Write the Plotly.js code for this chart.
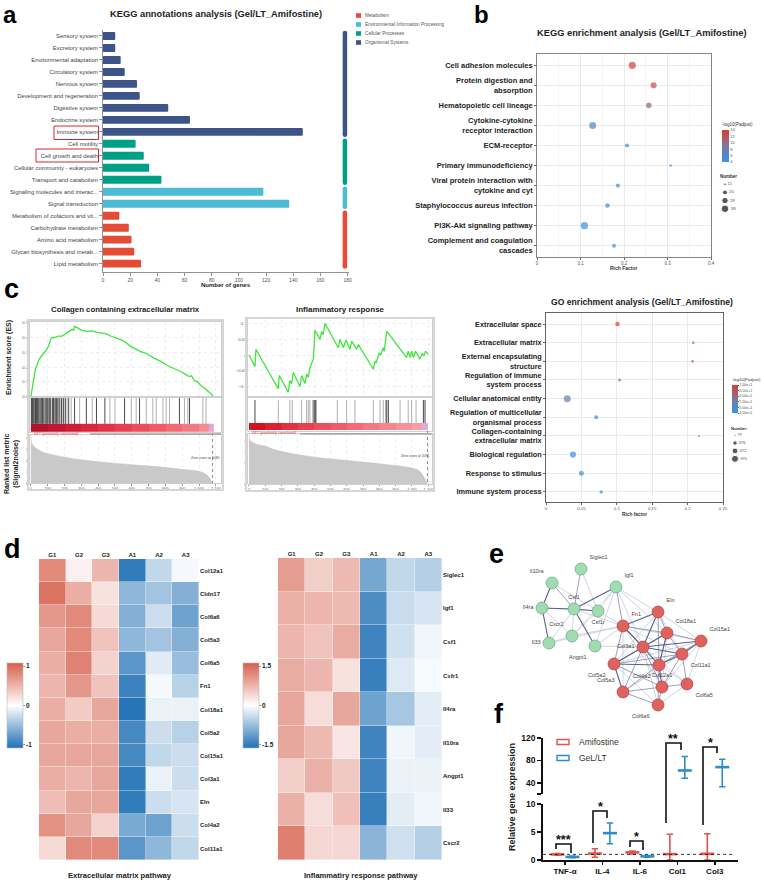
<!DOCTYPE html>
<html><head><meta charset="utf-8">
<script src="https://cdn.plot.ly/plotly-3.0.1.min.js"></script>
<style>html,body{margin:0;padding:0;background:#fff;}#chart{width:764px;height:882px;}</style>
</head><body><div id="chart"></div>
<script>
// ---------------- DATA ----------------
// Panel a: KEGG annotation
const keggCats = ['Sensory system','Excretory system','Environmental adaptation','Circulatory system','Nervous system','Development and regeneration','Digestive system','Endocrine system','Immune system','Cell motility','Cell growth and death','Cellular community - eukaryotes','Transport and catabolism','Signaling molecules and interac...','Signal transduction','Metabolism of cofactors and vit...','Carbohydrate metabolism','Amino acid metabolism','Glycan biosynthesis and metab...','Lipid metabolism'];
const keggGenes = [9,9,13,16,25,27,48,64,147,24,30,34,43,118,137,12,19,21,23,28];
const keggClass = ['Organismal Systems','Organismal Systems','Organismal Systems','Organismal Systems','Organismal Systems','Organismal Systems','Organismal Systems','Organismal Systems','Organismal Systems','Cellular Processes','Cellular Processes','Cellular Processes','Cellular Processes','Environmental Information Processing','Environmental Information Processing','Metabolism','Metabolism','Metabolism','Metabolism','Metabolism'];
const classNames = ['Metabolism','Environmental Information Processing','Cellular Processes','Organismal Systems'];
const classColors = ['#E64B35','#4DBBD5','#00A087','#3C5488'];

// Panel b: KEGG enrichment
const kCats = ['Cell adhesion molecules','Protein digestion and<br>absorption','Hematopoietic cell lineage','Cytokine-cytokine<br>receptor interaction','ECM-receptor','Primary immunodeficiency','Viral protein interaction with<br>cytokine and cyt','Staphylococcus aureus infection','PI3K-Akt signaling pathway','Complement and coagulation<br>cascades'];
const kRich = [0.219,0.268,0.257,0.128,0.207,0.307,0.186,0.162,0.109,0.177];
const kPadj = [13.5,12.5,10.8,7.0,5.8,4.8,4.6,4.4,4.2,4.2];
const kNum = [35,27,24,33,17,11,17,19,36,16];
const kNumLegend = [11,20,29,38];
const kPadjTicks = [4,6,8,10,12,14];

// Panel c: GSEA
const gsea1Title = 'Collagen containing extracellular matrix';
const es1X = [0,6,12,18,24,28,36,48,60,70,80,87,97,105,117,127,137,150,165,186,200,216,230,246,254,260,270,286,300,335,360,395,415,435,450,474,500,534,560,593,620,653,690,732,770,812,850,891,920,941,955,970,990,1010,1030,1050,1070,1083];
const es1Y = [0,0.04,0.08,0.11,0.15,0.19,0.21,0.25,0.27,0.29,0.3,0.305,0.33,0.34,0.385,0.4,0.4,0.405,0.41,0.41,0.42,0.43,0.44,0.455,0.45,0.475,0.47,0.46,0.45,0.44,0.445,0.435,0.43,0.43,0.425,0.41,0.4,0.385,0.37,0.34,0.325,0.305,0.29,0.26,0.24,0.21,0.19,0.17,0.15,0.135,0.14,0.11,0.1,0.075,0.06,0.04,0.02,0.005];
const hits1Dark = [3,8,14,20,27,33,40,48,55,62,70,77,85,92,100,110,118,128,135,145,152,160,172,182,195,205,225,260,330,390,440,557,646,883,943];
const hits1Grey = [11,30,45,66,105,140,165,190,215,240,290,365,470,500,597,626,686,725,745,785,804,824,913,933,1022,1041];
const rank1X = [0,4,14,34,73,113,211,310,409,607,804,923,1002,1041,1061,1073,1080];
const rank1Y = [4.25,3.6,3.3,3.05,2.72,2.56,2.27,2.04,1.88,1.62,1.38,1.18,1.04,0.8,0.5,0.15,0];
const zero1 = 1080;

const gsea2Title = 'Inflammatory response';
const es2X = [0,37,43,180,186,241,251,262,272,313,323,344,354,364,374,395,405,436,446,456,466,548,558,579,595,620,630,661,671,763,773,780,800,808,824,830,845,967,977,988,998,1008,1022,1049,1063,1075,1083,1100];
const es2Y = [0,-0.036,0.018,-0.107,-0.065,-0.117,-0.081,-0.09,-0.055,-0.1,-0.065,-0.09,-0.06,-0.07,-0.04,-0.013,0.078,0.049,0.074,0.064,0.1,0.023,0.049,0.023,0.047,0.018,0.044,0.018,0.033,-0.045,-0.019,-0.025,0.007,0,0.023,0.012,0.075,-0.008,0.012,-0.008,0.012,-0.008,0.012,-0.013,0.005,-0.003,0.012,0.002];
const hits2Dark = [37,399,405,411,845,855,1070,1080];
const hits2Grey = [180,251,266,323,354,364,374,391,542,599,650,763,804,824,838,927,977,998,1025];
const rank2X = [0,5,20,50,98,150,251,350,456,560,660,760,865,950,1008,1040,1059,1075,1088,1095];
const rank2Y = [4.45,4.0,3.8,3.6,3.45,3.15,2.8,2.55,2.35,2.2,2.05,1.9,1.73,1.58,1.42,1.25,0.97,0.6,0.2,0];
const zero2 = 1095;
const bandEdges1 = [0,100,200,300,400,500,600,700,800,900,1000,1055,1085];
const bandColors1 = ['#b3122b','#c2162f','#cf1f36','#d9283d','#e03445','#e5404f','#ea4d5b','#ee5b67','#f16a74','#f37a82','#f48a90','#e7a3dc'];
const bandEdges2 = [0,100,200,300,400,500,600,700,800,900,1000,1060,1098];
const bandColors2 = ['#d3141e','#dc2230','#e2323f','#e8404d','#ec4e5b','#ef5c68','#f16a75','#f37882','#f5868e','#f6929a','#f59ea6','#e3a9e3'];

// Panel c: GO enrichment
const goCats = ['Extracellular space','Extracellular matrix','External encapsulating<br>structure','Regulation of immune<br>system process','Cellular anatomical entity','Regulation of multicellular<br>organismal process','Collagen-containing<br>extracellular matrix','Biological regulation','Response to stimulus','Immune system process'];
const goRich = [0.101,0.208,0.207,0.104,0.030,0.071,0.216,0.038,0.050,0.078];
const goPadj = [70,67.5,67,56,55,49.5,48,47,46.5,46];
const goNum = [400,125,125,180,970,320,79,760,500,240];
const goNumLegend = [79,376,672,970];
const goPadjTicks = [45,50,55,60,65,70];

// Panel d: heatmaps
const samples = ['G1','G2','G3','A1','A2','A3'];
const ecmGenes = ['Col12a1','Cldn17','Col6a6','Col5a3','Col6a5','Fn1','Col18a1','Col5a2','Col15a1','Col3a1','Eln','Col4a2','Col11a1'];
const ecmZ = [
 [0.8,0.1,0.5,-1.0,-0.3,-0.05],
 [0.95,0.55,0.2,-0.55,-0.45,-0.6],
 [0.7,0.8,0.25,-0.6,-0.25,-0.7],
 [0.6,0.8,0.4,-0.55,-0.45,-0.6],
 [0.55,0.85,0.3,-0.8,-0.15,-0.5],
 [0.5,0.7,0.4,-0.95,-0.05,-0.35],
 [0.55,0.35,0.6,-1.05,-0.1,-0.1],
 [0.6,0.55,0.55,-0.9,-0.25,-0.35],
 [0.6,0.6,0.6,-0.9,-0.3,-0.25],
 [0.55,0.5,0.6,-1.0,-0.1,-0.25],
 [0.45,0.6,0.6,-1.0,-0.25,-0.2],
 [0.75,0.6,0.3,-0.65,-0.7,-0.25],
 [0.25,0.8,0.8,-0.8,-0.55,-0.3]];
const infGenes = ['Siglec1','Igf1','Csf1','Csfr1','Il4ra','Il10ra','Angpt1','Il33','Cxcr2'];
const infZ = [
 [1.0,0.5,0.7,-1.0,-0.45,-0.55],
 [0.8,0.75,0.7,-1.3,-0.4,-0.3],
 [0.75,0.6,0.85,-1.4,-0.35,-0.1],
 [0.85,0.75,0.3,-1.45,-0.25,-0.05],
 [0.9,0.35,0.9,-1.05,-0.65,-0.2],
 [0.9,0.7,0.25,-1.4,-0.1,-0.2],
 [0.5,0.8,0.55,-1.4,-0.15,-0.15],
 [0.8,0.35,0.65,-1.45,-0.2,-0.1],
 [1.3,0.4,0.4,-0.85,-0.35,-0.55]];

// Panel e: network (layout coordinates)
const nodeNames = ['Siglec1','Il10ra','Igf1','Il4ra','Csf1','Csf1r','Cxcr2','Il33','Angpt1','Fn1','Eln','Col18a1','Col15a1','Col3a1','Col11a1','Col5a2','Col4a2','Col12a1','Col5a3','Col6a5','Col6a6'];
const nodeX = [581,552,616,542,574,598,572,549,595,623,658,667,701,643,682,614,659,662,623,687,658];
const nodeY = [569,583,587,608,609,611,636,643,646,626,612,633,641,647,654,664,665,687,692,684,705];
const nodeGroup = ['inf','inf','inf','inf','inf','inf','inf','inf','inf','ecm','ecm','ecm','ecm','ecm','ecm','ecm','ecm','ecm','ecm','ecm','ecm'];
const nodeLabelPos = ['top right','top left','top right','middle left','top center','bottom center','top left','middle left','bottom left','top right','top right','top right','top right','middle left','bottom right','bottom left','bottom left','top center','top left','bottom right','bottom left'];
const edgesDark = ['Il10ra-Il4ra','Il4ra-Csf1','Il4ra-Il33','Csf1-Csf1r','Csf1-Igf1','Csf1-Angpt1','Fn1-Eln','Fn1-Col3a1','Eln-Col3a1','Col18a1-Col3a1','Col18a1-Col4a2','Col3a1-Col5a2','Col3a1-Col4a2','Col3a1-Col11a1','Col3a1-Col15a1','Col5a2-Col4a2','Col5a2-Col5a3','Col4a2-Col12a1','Col4a2-Col11a1','Col11a1-Col15a1'];
const edgesMed = ['Il10ra-Csf1','Siglec1-Csf1','Igf1-Fn1','Fn1-Col18a1','Fn1-Col5a2','Fn1-Col4a2','Eln-Col18a1','Eln-Col4a2','Col18a1-Col15a1','Col18a1-Col11a1','Col18a1-Col5a2','Col3a1-Col12a1','Col3a1-Col5a3','Col5a2-Col12a1','Col5a2-Col11a1','Col4a2-Col15a1','Col4a2-Col5a3','Col4a2-Col6a6','Col11a1-Col12a1','Col11a1-Col6a5','Col12a1-Col6a5','Col12a1-Col5a3','Col12a1-Col6a6','Col5a3-Col6a6'];
const edgesLight = ['Il10ra-Csf1r','Il4ra-Cxcr2','Il4ra-Csf1r','Siglec1-Csf1r','Csf1-Cxcr2','Csf1-Il33','Igf1-Csf1r','Igf1-Eln','Igf1-Angpt1','Igf1-Cxcr2','Igf1-Col18a1','Igf1-Col3a1','Csf1r-Cxcr2','Csf1r-Fn1','Il33-Cxcr2','Il33-Fn1','Cxcr2-Fn1','Angpt1-Fn1','Angpt1-Col3a1','Csf1-Fn1','Fn1-Col15a1','Fn1-Col11a1','Fn1-Col12a1','Fn1-Col5a3','Eln-Col15a1','Eln-Col5a2','Eln-Col11a1','Col18a1-Col12a1','Col3a1-Col6a6','Col3a1-Col6a5','Col5a2-Col6a6','Col5a2-Col15a1','Col4a2-Col6a5','Col6a5-Col6a6','Col15a1-Col6a5','Col15a1-Col12a1','Col5a3-Col11a1'];

// Panel f: qPCR
const qCats = ['TNF-α','IL-4','IL-6','Col1','Col3'];
const amiMean = [1.0,1.15,1.35,1.05,1.1];
const amiLo = [0.85,0.5,1.1,0,0];
const amiHi = [1.15,2.0,1.6,4.6,4.7];
const gelMean = [0.55,4.8,0.65,62,68];
const gelLo = [0.4,2.9,0.5,48,33];
const gelHi = [0.7,6.6,0.8,87,82];
const sigStars = ['***','*','*','**','*'];
const axisBreak = 10;

// ---------------- HELPERS ----------------
const W=764,H=882;
const FONT='Liberation Sans, Arial, Helvetica, sans-serif';
const X=p=>p/W, Y=p=>1-p/H;
const DX=(a,b)=>[a/W,b/W], DY=(t,b)=>[1-b/H,1-t/H];
const traces=[], shapes=[], annotations=[];
function ann(x,y,text,o){annotations.push(Object.assign({xref:'paper',yref:'paper',x:X(x),y:Y(y),text:text,showarrow:false,xanchor:'center',yanchor:'middle',font:{size:7,color:'#222',family:FONT}},o||{}));}
function rectPx(x0,y0,x1,y1,o){shapes.push(Object.assign({type:'rect',xref:'paper',yref:'paper',x0:X(x0),x1:X(x1),y0:Y(y1),y1:Y(y0),line:{width:1,color:'#000'}},o||{}));}
function linePx(pts,o){shapes.push(Object.assign({type:'path',xref:'paper',yref:'paper',path:'M'+pts.map(p=>X(p[0])+','+Y(p[1])).join(' L'),line:{width:1.6,color:'#000'}},o||{}));}
function ax(o){return Object.assign({showgrid:false,zeroline:false,showline:false,ticks:'',automargin:false,fixedrange:true},o);}
function areaScale(n,nmin,nmax,dmin,dmax){const t=(n-nmin)/(nmax-nmin);return Math.sqrt(dmin*dmin+t*(dmax*dmax-dmin*dmin));}
const idx = arr=>arr.map((_,i)=>i);
const layout={width:W,height:H,margin:{l:0,r:0,t:0,b:0},paper_bgcolor:'#fff',plot_bgcolor:'rgba(0,0,0,0)',font:{family:FONT,color:'#222'},showlegend:false};

// ---------------- PANEL A ----------------
const iA = idx(keggCats);
traces.push({type:'bar',orientation:'h',x:keggGenes,y:iA,xaxis:'x',yaxis:'y',width:0.66,marker:{color:keggClass.map(c=>classColors[classNames.indexOf(c)]),cornerradius:1,line:{width:0}},hoverinfo:'skip'});
classNames.forEach((cn,k)=>{
  const rows=iA.filter(i=>keggClass[i]===cn);
  const y0=Math.min(...rows)-0.25, y1=Math.max(...rows)+0.25;
  traces.push({type:'scatter',mode:'lines+markers',x:[178,178],y:[y0,y1],xaxis:'x',yaxis:'y',line:{color:classColors[k],width:4.5},marker:{size:4.5,color:classColors[k]},hoverinfo:'skip',cliponaxis:false});
});
layout.xaxis=ax({domain:DX(103,349),range:[0,181],anchor:'y',dtick:20,tick0:0,ticks:'outside',ticklen:3,tickwidth:0.8,tickcolor:'#777',showline:true,linecolor:'#777',linewidth:0.8,tickfont:{size:5,color:'#555'}});
layout.yaxis=ax({domain:DY(30,272),range:[19.7,-0.5],anchor:'x',tickvals:iA,ticktext:keggCats,ticks:'outside',ticklen:3,tickwidth:0.8,tickcolor:'#777',showline:true,linecolor:'#777',linewidth:0.8,tickfont:{size:5.9,color:'#444'}});
ann(216,14,'<b>KEGG annotations analysis (Gel/LT_Amifostine)</b>',{font:{size:9.3,color:'#222',family:FONT}});
ann(226,285,'<b>Number of genes</b>',{font:{size:6,color:'#222',family:FONT}});
rectPx(54,126,98.5,139.5,{line:{width:1,color:'#d3262c'}});
rectPx(36,149,98.5,162,{line:{width:1,color:'#d3262c'}});
classNames.forEach((cn,k)=>{
  const yc=15.5+k*9;
  rectPx(356,yc-2.3,361,yc+2.3,{fillcolor:classColors[k],line:{width:0}});
  ann(363,yc,cn,{xanchor:'left',font:{size:4.7,color:'#555',family:FONT}});
});

// ---------------- PANEL B ----------------
const bubbleScale=[[0,'#3a93e8'],[0.3,'#5585c0'],[0.5,'#7a7b9c'],[0.75,'#b15a62'],[1,'#dd3b33']];
const iB=idx(kCats);
traces.push({type:'scatter',mode:'markers',x:kRich,y:iB,xaxis:'x2',yaxis:'y2',hoverinfo:'skip',
  marker:{size:kNum.map(n=>areaScale(n,11,38,2.5,7.6)),color:kPadj,colorscale:bubbleScale,cmin:4,cmax:14,line:{width:0},showscale:true,
  colorbar:{x:X(722),xanchor:'left',y:Y(120),yanchor:'top',len:42,lenmode:'pixels',thickness:7,outlinewidth:0,tickvals:kPadjTicks,ticks:'',tickfont:{size:4,color:'#555'},xpad:0,ypad:0,
    title:{text:'-log10(Padjust)',side:'top',font:{size:4.5,color:'#333'}}}}});
layout.xaxis2=ax({domain:DX(537,711),range:[0,0.4],anchor:'y2',dtick:0.1,showgrid:true,gridcolor:'#e6e6e6',gridwidth:0.8,minor:{dtick:0.05,showgrid:true,gridcolor:'#f4f4f4'},showline:true,mirror:true,linecolor:'#666',linewidth:0.8,ticks:'outside',ticklen:2,tickcolor:'#666',tickfont:{size:4.5,color:'#555'}});
layout.yaxis2=ax({domain:DY(54.3,256.7),range:[9.55,-0.55],anchor:'x2',tickvals:iB,ticktext:kCats,showgrid:true,gridcolor:'#e6e6e6',gridwidth:0.8,showline:true,mirror:true,linecolor:'#666',linewidth:0.8,ticks:'outside',ticklen:2,tickcolor:'#666',tickfont:{size:7.5,color:'#222',weight:'bold'}});
ann(642,33,'<b>KEGG enrichment analysis (Gel/LT_Amifostine)</b>',{font:{size:9.3,color:'#222',family:FONT}});
ann(624,268,'<b>Rich Factor</b>',{font:{size:5,color:'#333',family:FONT}});
ann(718,176,'<b>Number</b>',{xanchor:'left',font:{size:4.5,color:'#333',family:FONT}});
traces.push({type:'scatter',mode:'markers+text',x:kNumLegend.map(()=>0),y:idx(kNumLegend),xaxis:'x15',yaxis:'y15',text:kNumLegend.map(String),textposition:'middle right',textfont:{size:4.3,color:'#555'},
  marker:{size:kNumLegend.map(n=>areaScale(n,11,38,2.5,7.6)),color:'#111'},hoverinfo:'skip',cliponaxis:false});
layout.xaxis15=ax({domain:DX(722,745),range:[-0.15,1],anchor:'y15',visible:false});
layout.yaxis15=ax({domain:DY(181,212),range:[3.4,-0.4],anchor:'x15',visible:false});

// ---------------- PANEL C: GSEA ----------------
function gsea(o){
  const gridC='#e2e2e2', frameC='#c4c4c4';
  traces.push({type:'scatter',mode:'lines',x:o.esX,y:o.esY,xaxis:o.ax[0],yaxis:o.ay[0],line:{color:'#3ee63e',width:1.3},hoverinfo:'skip'});
  const mk=(pos)=>{const xs=[],ys=[];pos.forEach(p=>{xs.push(p,p,null);ys.push(0.235,o.hitTop,null);});return [xs,ys];};
  const g=mk(o.hitsGrey), d=mk(o.hitsDark);
  traces.push({type:'scatter',mode:'lines',x:g[0],y:g[1],xaxis:o.ax[1],yaxis:o.ay[1],line:{color:'#9a9a9a',width:0.8},hoverinfo:'skip'});
  traces.push({type:'scatter',mode:'lines',x:d[0],y:d[1],xaxis:o.ax[1],yaxis:o.ay[1],line:{color:'#1a1a1a',width:0.8},hoverinfo:'skip'});
  traces.push({type:'heatmap',x:o.bandEdges,y:[0.02,0.235],z:[o.bandColors.map((_,i)=>i)],colorscale:o.bandColors.map((c,i)=>[i/(o.bandColors.length-1),c]),showscale:false,xaxis:o.ax[1],yaxis:o.ay[1],hoverinfo:'skip'});
  traces.push({type:'scatter',mode:'lines',x:o.rankX,y:o.rankY,fill:'tozeroy',fillcolor:'#c9c9c9',line:{color:'#c0c0c0',width:0.5,shape:'spline'},xaxis:o.ax[2],yaxis:o.ay[2],hoverinfo:'skip'});
  const xbase={range:o.xr,showgrid:true,gridcolor:gridC,griddash:'dot',gridwidth:0.6,dtick:100,tick0:0,showline:true,mirror:true,linecolor:frameC,linewidth:0.8};
  layout['xaxis'+o.n[0]]=ax(Object.assign({},xbase,{domain:o.xd,anchor:o.ay[0],showticklabels:false}));
  layout['xaxis'+o.n[1]]=ax(Object.assign({},xbase,{domain:o.xd,anchor:o.ay[1],showticklabels:false,showgrid:false}));
  layout['xaxis'+o.n[2]]=ax(Object.assign({},xbase,{domain:o.xd,anchor:o.ay[2],tickformat:',d',tickfont:{size:3.8,color:'#555'},ticks:'outside',ticklen:1.5,tickcolor:'#999'}));
  layout['yaxis'+o.n[0]]=ax({domain:o.esD,range:o.esR,anchor:o.ax[0],tickvals:o.esTicks,tickformat:o.esFmt,tickfont:{size:4.3,color:'#555'},showgrid:true,gridcolor:gridC,griddash:'dot',gridwidth:0.6,showline:true,mirror:true,linecolor:frameC,linewidth:0.8});
  layout['yaxis'+o.n[1]]=ax({domain:o.hitD,range:[0,1],anchor:o.ax[1],showticklabels:false,showline:true,mirror:true,linecolor:frameC,linewidth:0.8});
  layout['yaxis'+o.n[2]]=ax({domain:o.rankD,range:o.rankR,anchor:o.ax[2],dtick:1,tick0:0,tickfont:{size:4.3,color:'#555'},showline:true,mirror:true,linecolor:frameC,linewidth:0.8});
  shapes.push({type:'line',xref:o.ax[2],yref:'paper',x0:o.zero,x1:o.zero,y0:Y(o.rankTopPx-1),y1:Y(o.rankBotPx),line:{color:'#555',width:0.7,dash:'dot'}});
  ann(o.zeroTxtX,o.zeroTxtY,'Zero cross at '+o.zero,{xanchor:'right',font:{size:3.4,color:'#444',family:FONT}});
  ann(o.xpx[0]+2,o.labelY,'GLT (positively correlated)',{xanchor:'left',font:{size:3.8,color:'#e8303a',family:FONT}});
  linePx([[o.greyLine[0],o.labelY+0.6],[o.greyLine[1],o.labelY+0.6]],{line:{color:'#a8a8a8',width:1.8}});
  rectPx(o.frame[0],o.frame[1],o.frame[2],o.frame[3],{line:{color:'#d6d6d6',width:2}});
  ann((o.xpx[0]+o.xpx[1])/2,309,'<b>'+o.title+'</b>',{font:{size:o.titleSize,color:'#222',family:FONT}});
}
gsea({n:[3,4,5],ax:['x3','x4','x5'],ay:['y3','y4','y5'],xd:DX(30,221),xpx:[30,221],xr:[-5,1130],
  esX:es1X,esY:es1Y,hitsDark:hits1Dark,hitsGrey:hits1Grey,hitTop:0.97,bandEdges:bandEdges1,bandColors:bandColors1,rankX:rank1X,rankY:rank1Y,
  esD:DY(322,397),esR:[-0.003,0.505],esTicks:[0,0.1,0.2,0.3,0.4,0.5],esFmt:'.1f',hitD:DY(397,432),rankD:DY(435,483.3),rankR:[0,4.24],
  zero:zero1,rankTopPx:434,rankBotPx:483.3,zeroTxtX:221,zeroTxtY:458,labelY:433.6,greyLine:[90,221],frame:[28,320,223,490],title:gsea1Title,titleSize:7.8});
gsea({n:[6,7,8],ax:['x6','x7','x8'],ay:['y6','y7','y8'],xd:DX(248.3,431.7),xpx:[248.3,431.7],xr:[-4,1121],
  esX:es2X,esY:es2Y,hitsDark:hits2Dark,hitsGrey:hits2Grey,hitTop:0.91,bandEdges:bandEdges2,bandColors:bandColors2,rankX:rank2X,rankY:rank2Y,
  esD:DY(319.3,396.7),esR:[-0.1315,0.1126],esTicks:[-0.1,-0.05,0,0.05,0.1],esFmt:'',hitD:DY(397,431),rankD:DY(433.4,484),rankR:[0,4.6],
  zero:zero2,rankTopPx:432,rankBotPx:484,zeroTxtX:431,zeroTxtY:456,labelY:433.2,greyLine:[300,431.7],frame:[246,318,434,491],title:gsea2Title,titleSize:8});
ann(9,358,'<b>Enrichment score (ES)</b>',{textangle:-90,font:{size:7,color:'#222',family:FONT}});
ann(12,464,'<b>Ranked list metric<br>(Signal2noise)</b>',{textangle:-90,font:{size:7,color:'#222',family:FONT}});

// ---------------- PANEL C: GO ----------------
const iG=idx(goCats);
traces.push({type:'scatter',mode:'markers',x:goRich,y:iG,xaxis:'x9',yaxis:'y9',hoverinfo:'skip',
  marker:{size:goNum.map(n=>areaScale(n,79,970,2,7)),color:goPadj,colorscale:bubbleScale,cmin:45,cmax:70,line:{width:0},showscale:true,
  colorbar:{x:X(732),xanchor:'left',y:Y(375),yanchor:'top',len:38,lenmode:'pixels',thickness:6,outlinewidth:0,tickvals:goPadjTicks,tickformat:'.2e',ticks:'outside',ticklen:1,tickcolor:'#666',tickfont:{size:3.6,color:'#555'},xpad:0,ypad:0,
    title:{text:'-log10(Padjust)',side:'top',font:{size:4.2,color:'#333'}}}}});
layout.xaxis9=ax({domain:DX(546,723),range:[0,0.25],anchor:'y9',tickvals:[0,0.05,0.1,0.15,0.2,0.25],showgrid:true,gridcolor:'#e6e6e6',gridwidth:0.8,showline:true,mirror:true,linecolor:'#555',linewidth:0.9,ticks:'outside',ticklen:2,tickcolor:'#666',tickfont:{size:4.3,color:'#555'}});
layout.yaxis9=ax({domain:DY(313,502),range:[9.54,-0.59],anchor:'x9',tickvals:iG,ticktext:goCats,showgrid:true,gridcolor:'#e6e6e6',gridwidth:0.8,showline:true,mirror:true,linecolor:'#555',linewidth:0.9,ticks:'outside',ticklen:2,tickcolor:'#666',tickfont:{size:7.3,color:'#222',weight:'bold'}});
ann(642,302,'<b>GO enrichment analysis (Gel/LT_Amifostine)</b>',{font:{size:8.6,color:'#222',family:FONT}});
ann(634,514,'<b>Rich factor</b>',{font:{size:4.8,color:'#333',family:FONT}});
ann(729,428,'<b>Number</b>',{xanchor:'left',font:{size:4.2,color:'#333',family:FONT}});
traces.push({type:'scatter',mode:'markers+text',x:goNumLegend.map(()=>0),y:idx(goNumLegend),xaxis:'x16',yaxis:'y16',text:goNumLegend.map(String),textposition:'middle right',textfont:{size:4,color:'#555'},
  marker:{size:goNumLegend.map(n=>areaScale(n,79,970,2,7)),color:'#111'},hoverinfo:'skip',cliponaxis:false});
layout.xaxis16=ax({domain:DX(732,755),range:[-0.15,1],anchor:'y16',visible:false});
layout.yaxis16=ax({domain:DY(432,462),range:[3.4,-0.4],anchor:'x16',visible:false});

// ---------------- PANEL D: HEATMAPS ----------------
const heatScale=[[0,'#2171b5'],[0.5,'#ffffff'],[1,'#d6604d']];
function heat(o){
  traces.push({type:'heatmap',x:samples,y:o.genes,z:o.z,xaxis:o.xa,yaxis:o.ya,colorscale:heatScale,zmin:-o.lim,zmax:o.lim,xgap:0.4,ygap:0.4,hoverinfo:'skip',
    colorbar:{x:X(o.cbx),xanchor:'left',y:Y(663),yanchor:'top',len:85,lenmode:'pixels',thickness:16,outlinewidth:0.6,outlinecolor:'#bbb',tickvals:o.cbTicks,ticktext:o.cbText,ticks:'outside',ticklen:2,tickcolor:'#999',tickfont:{size:6.5,color:'#222',weight:'bold'},xpad:0,ypad:0}});
  layout['xaxis'+o.n]=ax({domain:DX(o.x0,o.x1),anchor:o.ya,side:'top',tickfont:{size:6,color:'#222',weight:'bold'}});
  layout['yaxis'+o.n]=ax({domain:DY(o.y0,860),anchor:o.xa,side:'right',autorange:'reversed',tickfont:{size:6,color:'#222',weight:'bold'}});
  ann((o.x0+o.x1)/2+1,875,'<b>'+o.title+'</b>',{font:{size:7.6,color:'#222',family:FONT}});
}
heat({n:10,xa:'x10',ya:'y10',genes:ecmGenes,z:ecmZ,lim:1.08,cbx:7,cbTicks:[-1,0,1],cbText:['-1','0','1'],x0:39,x1:199,y0:559,title:'Extracellular matrix pathway'});
heat({n:11,xa:'x11',ya:'y11',genes:infGenes,z:infZ,lim:1.62,cbx:243,cbTicks:[-1.5,0,1.5],cbText:['-1.5','0','1.5'],x0:278,x1:442,y0:558,title:'Inflammatiry response pathway'});

// ---------------- PANEL E: NETWORK ----------------
function edgeTrace(list,color,width){const xs=[],ys=[];list.forEach(e=>{const p=e.split('-');const i=nodeNames.indexOf(p[0]),j=nodeNames.indexOf(p[1]);xs.push(nodeX[i],nodeX[j],null);ys.push(nodeY[i],nodeY[j],null);});
  return {type:'scatter',mode:'lines',x:xs,y:ys,xaxis:'x12',yaxis:'y12',line:{color:color,width:width},hoverinfo:'skip'};}
traces.push(edgeTrace(edgesLight,'#c6c9da',0.8));
traces.push(edgeTrace(edgesMed,'#8f95b3',0.9));
traces.push(edgeTrace(edgesDark,'#5a6189',1.1));
traces.push({type:'scatter',mode:'markers+text',x:nodeX,y:nodeY,xaxis:'x12',yaxis:'y12',text:nodeNames,textposition:nodeLabelPos,textfont:{size:5.5,color:'#444'},
  marker:{size:12,color:nodeGroup.map(g=>g==='inf'?'#9fdcb2':'#e0625e'),line:{width:0.7,color:nodeGroup.map(g=>g==='inf'?'#6aa47e':'#a84444')}},hoverinfo:'skip',cliponaxis:false});
layout.xaxis12=ax({domain:DX(505,764),range:[505,764],anchor:'y12',visible:false});
layout.yaxis12=ax({domain:DY(540,720),range:[720,540],anchor:'x12',visible:false});

// ---------------- PANEL F: qPCR ----------------
const iQ=idx(qCats);
const amiC='#e0544b', gelC='#2d8ccd';
function qTrace(ids,mean,lo,hi,off,col,ya){
  return {type:'scatter',mode:'markers',x:ids.map(i=>i+off),y:ids.map(i=>mean[i]),xaxis:'x13',yaxis:ya,hoverinfo:'skip',cliponaxis:false,
    marker:{symbol:'line-ew',size:10,line:{width:2.6,color:col}},
    error_y:{type:'data',symmetric:false,array:ids.map(i=>hi[i]-mean[i]),arrayminus:ids.map(i=>mean[i]-lo[i]),color:col,thickness:1.6,width:3.2}};
}
const amiLow=iQ.filter(i=>amiMean[i]<=axisBreak), gelLow=iQ.filter(i=>gelMean[i]<=axisBreak), gelUp=iQ.filter(i=>gelMean[i]>axisBreak);
traces.push(qTrace(amiLow,amiMean,amiLo,amiHi,-0.2,amiC,'y13'));
traces.push(qTrace(gelLow,gelMean,gelLo,gelHi,0.2,gelC,'y13'));
traces.push(qTrace(gelUp,gelMean,gelLo,gelHi,0.2,gelC,'y14'));
layout.xaxis13=ax({domain:DX(543,738),range:[-0.587,4.62],anchor:'y13',tickvals:iQ,ticktext:qCats,showline:true,linecolor:'#111',linewidth:1.8,ticks:'outside',ticklen:3,tickwidth:1.5,tickcolor:'#111',tickfont:{size:8,color:'#111',weight:'bold'}});
layout.yaxis13=ax({domain:DY(804,860),range:[0,10],anchor:'x13',tickvals:[0,5,10],showline:true,linecolor:'#111',linewidth:1.8,ticks:'outside',ticklen:4,tickwidth:1.6,tickcolor:'#111',tickfont:{size:8.5,color:'#111',weight:'bold'}});
layout.yaxis14=ax({domain:DY(738,794),range:[20,120],anchor:'x13',tickvals:[20,40,80,120],ticktext:['','40','80','120'],showline:true,linecolor:'#111',linewidth:1.8,ticks:'outside',ticklen:4,tickwidth:1.6,tickcolor:'#111',tickfont:{size:8.5,color:'#111',weight:'bold'}});
shapes.push({type:'line',xref:'x13 domain',yref:'y13',x0:0,x1:0.98,y0:1,y1:1,line:{color:'#222',width:0.9,dash:'dot'}});
ann(512,797,'<b>Relative gene expression</b>',{textangle:-90,font:{size:9,color:'#222',family:FONT}});
rectPx(557,739.5,569,744.5,{line:{width:1.4,color:amiC}});
ann(577,742,'Amifostine',{xanchor:'left',font:{size:8.5,color:'#333',family:FONT}});
rectPx(557,755.5,569,760.5,{line:{width:1.4,color:gelC}});
ann(577,758,'GeL/LT',{xanchor:'left',font:{size:8.5,color:'#333',family:FONT}});
const brk=[[556,571,844,849,853,563,839],[593,607,811,843,818,600,806],[630,643,841,847,850,636,836],[666,681,743,823,750,673,738],[703,717,747,825,753,710,742]];
brk.forEach((b,k)=>{linePx([[b[0],b[3]],[b[0],b[2]],[b[1],b[2]],[b[1],b[4]]],{line:{width:1.6,color:'#111'}});
  ann(b[5],b[6]+1,'<b>'+sigStars[k]+'</b>',{font:{size:12.5,color:'#111',family:FONT}});});

// ---------------- PANEL LETTERS ----------------
ann(2,0,'<b>a</b>',{xanchor:'left',yanchor:'top',borderpad:0,font:{size:24,color:'#000',family:FONT}});
ann(473,0,'<b>b</b>',{xanchor:'left',yanchor:'top',borderpad:0,font:{size:24,color:'#000',family:FONT}});
[['c',2,288.7],['d',2,548.7],['e',487,553.7],['f',492,713.7]].forEach(l=>ann(l[1],l[2],'<b>'+l[0]+'</b>',{xanchor:'left',font:{size:27,color:'#000',family:FONT}}));

layout.shapes=shapes; layout.annotations=annotations;
Plotly.newPlot('chart',traces,layout,{staticPlot:true,displayModeBar:false});
</script></body></html>
